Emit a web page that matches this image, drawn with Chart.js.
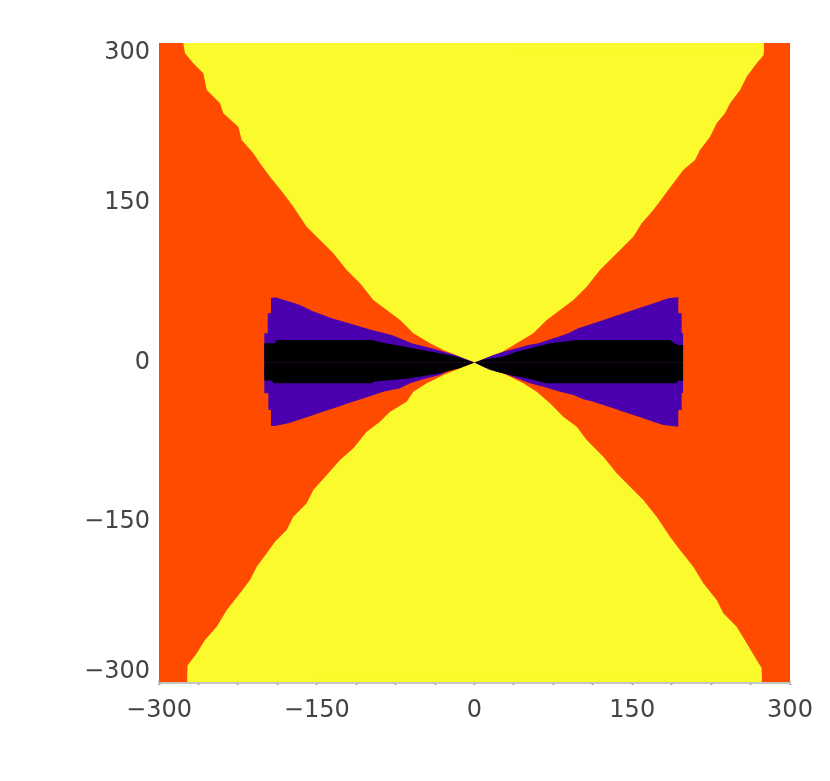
<!DOCTYPE html>
<html>
<head>
<meta charset="utf-8">
<script src="https://cdn.jsdelivr.net/npm/chart.js@4.4.1/dist/chart.umd.min.js"></script>
<style>
  html, body { margin: 0; padding: 0; background: #fff; }
  canvas { display: block; }
</style>
</head>
<body>
<canvas id="regionChart" width="830" height="781"></canvas>
<script>
/* ============================================================
   REGION BOUNDARIES  (data units)
   ============================================================ */
const axisMin = -300;
const axisMax = 300;
const labelTicks = [-300, -150, 0, 150, 300];

// full plot background
const orangeBox = [[-300, 300], [300, 300]];

// upper yellow cone: left edge top -> centre, then right edge centre -> top
const yellowTopLeft = [
    [-277, 300], [-275.3, 290.3], [-267.4, 281], [-257.9, 271.5], [-254.6, 255.9],
    [-242, 243.4], [-238.9, 234], [-224.6, 221.4], [-221.4, 208.9], [-210.3, 196.4],
    [-204, 187], [-194.5, 174.5], [-181.8, 158.9], [-172.3, 146.3], [-159.6, 127.5],
    [-146.9, 115], [-134.3, 102.5], [-121.5, 86.9], [-108.9, 74.4], [-96.2, 58.7],
    [-83.5, 49.3], [-70.8, 39.9], [-58.2, 27.4], [-42.3, 18], [-29.7, 11.7],
    [-13.8, 5.4], [0, 0]
];
const yellowTopRight = [
    [8.4, 2.3], [24.2, 8.6], [40.1, 18], [55.9, 27.4], [68.7, 39.9], [81.3, 49.3],
    [94, 58.7], [106.7, 71.2], [119.3, 86.9], [128.8, 96.2], [141.5, 108.7],
    [151, 118.1], [159, 130.7], [170, 143.2], [179.5, 155.7], [189, 168.3],
    [198.5, 180.8], [209.7, 190.1], [214.4, 199.5], [224, 212], [230.3, 224.6],
    [238.2, 234], [243, 243.4], [252.5, 255.9], [258.8, 268.4], [268.3, 280.9],
    [277.8, 291.8], [275, 300]
];

// lower yellow cone: left edge bottom -> centre, then right edge centre -> bottom
const yellowBottomLeft = [
    [-273, -300], [-277, -292], [-273.7, -285.6], [-264.1, -273], [-256.3, -260.6],
    [-245.1, -248.1], [-235.6, -232.4], [-223, -216.7], [-213.5, -204.2],
    [-207.1, -191.7], [-197.6, -179.2], [-189.7, -168.3], [-178.6, -157.3],
    [-172.3, -144.8], [-159.6, -132.2], [-153.3, -119.7], [-140.5, -105.6],
    [-127.9, -91.5], [-115.2, -80.6], [-102.5, -65], [-89.9, -55.6], [-80.3, -46.2],
    [-64.5, -36.8], [-58.2, -27.4], [-45.4, -19.5], [-29.7, -11.7], [-13.8, -5.4],
    [0, 0]
];
const yellowBottomRight = [
    [14.7, -5.4], [30.6, -11.7], [46.4, -19.5], [59.1, -27.4], [71.8, -38.3],
    [84.4, -50.9], [97.2, -60.3], [106.7, -72.8], [122.5, -88.5], [135.2, -104],
    [147.9, -116.6], [160.5, -129.1], [173.2, -144.8], [185.9, -163.6],
    [195.4, -176.1], [208, -191.7], [217.6, -207.3], [230.3, -223], [236.6, -235.5],
    [249.3, -248.1], [258.8, -263.7], [268.3, -279.3], [276.2, -291.8], [273, -300]
];

// purple bow tie
const purpleUpper = [
    [-200, 27.4], [-196.6, 27.4], [-196.6, 46.2], [-193.5, 46.2], [-193.5, 60.3],
    [-189.7, 61.2], [-175.4, 57.1], [-165.9, 54], [-154.8, 48.6], [-135.8, 41.5],
    [-116.8, 36.2], [-97.7, 30.5], [-78.7, 25.8], [-59.7, 18], [-40.7, 13.3],
    [-18.5, 7], [0, 0], [10, 3.9], [17.9, 7], [27.4, 10.1], [40.1, 13.3],
    [51.2, 16.4], [60.7, 18], [70.2, 21.1], [79.7, 24.2], [89.2, 27.4], [98.7, 32.1],
    [117.7, 38.3], [136.7, 44.6], [155.8, 50.9], [165.3, 54], [174.8, 57.1],
    [184.3, 60.3], [193.8, 61.2], [193.8, 46.2], [197, 46.2], [197, 27.4],
    [198.5, 27.4]
];
const purpleLower = [
    [-200, -28.9], [-196, -28.9], [-196, -44.6], [-193.5, -44.6], [-193.5, -59.6],
    [-189.7, -59.6], [-177, -57.1], [-167.5, -54], [-158, -50.9], [-148.5, -47.7],
    [-139, -44.6], [-129.5, -41.5], [-120, -38.3], [-110.5, -35.2], [-101, -32.1],
    [-86.7, -27.4], [-70.8, -24.2], [-61.3, -19.5], [-45.4, -14.8], [-32.8, -11.7],
    [-23.3, -7], [0, 0], [14.7, -7], [27.4, -10.1], [40.1, -14.8], [52.8, -19.5],
    [65.4, -22.7], [81.3, -27.4], [94, -30.5], [103.5, -34.6], [113, -36.8],
    [122.5, -39.9], [132, -43], [141.5, -46.2], [151, -49.3], [160.5, -52.4],
    [170, -55.6], [179.5, -58.7], [193.8, -60.3], [193.8, -44.6], [197, -44.6],
    [197, -28.6], [198.5, -28.6]
];

// black core
const blackUpper = [
    [-200, 18], [-190, 18], [-188, 21.1], [-98, 21.1], [-85, 18], [-66, 14.8],
    [-50, 11.7], [-33, 8.6], [-17, 5.4], [0, 0], [10, 3], [27.4, 5.4],
    [40.1, 10.1], [59.1, 14.8], [71.8, 18], [97.2, 21.1], [186, 21.1],
    [190, 18], [194, 16.4], [198.5, 16.4]
];
const blackLower = [
    [-200, -17], [-193, -17], [-191, -19.5], [-98, -19.5], [-96, -18],
    [-61, -14.8], [-33, -10.1], [-14, -5.4], [0, 0], [8.4, -3.9], [21.1, -8.6],
    [33.8, -11.7], [49.6, -14.8], [59.1, -17.1], [68.7, -19.5], [192, -19.5],
    [193, -17.1], [198.5, -17.1]
];

const COLORS = {
    orange: "#ff4b00",
    yellow: "#fafa2c",
    purple: "#4b00af",
    black: "#000000",
    label: "#444444"
};

const toPoints = arr => arr.map(([x, y]) => ({ x, y }));

function region(data, color, fill, order) {
    return {
        data: toPoints(data),
        showLine: true,
        borderWidth: 0,
        borderColor: "transparent",
        backgroundColor: color,
        pointRadius: 0,
        pointHoverRadius: 0,
        tension: 0,
        fill: fill,
        order: order
    };
}

function tickText(v) {
    if (!labelTicks.includes(v)) return "";
    return v < 0 ? "\u2212" + Math.abs(v) : String(v);
}

// end labels of the y axis sit inside the plot range, as in the original
function yTickText(v) {
    const t = tickText(v);
    if (v === axisMax) return ["", t];
    if (v === axisMin) return [t, ""];
    return t;
}

/* ============================================================
   DRAW
   ============================================================ */
new Chart(document.getElementById("regionChart"), {
    type: "scatter",
    data: {
        datasets: [
            region(blackUpper, COLORS.black, "origin", 1),
            region(blackLower, COLORS.black, "origin", 1),
            region(purpleUpper, COLORS.purple, "origin", 2),
            region(purpleLower, COLORS.purple, "origin", 2),
            region(yellowTopLeft.concat(yellowTopRight), COLORS.yellow, "end", 3),
            region(yellowBottomLeft.concat(yellowBottomRight), COLORS.yellow, "start", 3),
            region(orangeBox, COLORS.orange, "start", 4)
        ]
    },
    options: {
        responsive: false,
        animation: false,
        devicePixelRatio: 1,
        layout: { padding: { top: 43, right: 40, left: 0, bottom: 0 } },
        plugins: {
            legend: { display: false },
            tooltip: { enabled: false }
        },
        scales: {
            x: {
                type: "linear",
                min: axisMin,
                max: axisMax,
                afterFit: s => { s.height = 99; },
                border: { display: true, color: "#c4c4c4", width: 3 },
                grid: {
                    drawOnChartArea: false,
                    drawTicks: true,
                    tickLength: 3,
                    tickColor: "#9a9a9a",
                    tickWidth: 2
                },
                ticks: {
                    stepSize: 37.5,
                    autoSkip: false,
                    maxRotation: 0,
                    padding: 11,
                    color: COLORS.label,
                    font: { family: "DejaVu Sans", size: 24 },
                    callback: v => tickText(v)
                }
            },
            y: {
                type: "linear",
                min: axisMin,
                max: axisMax,
                afterFit: s => { s.width = 159; },
                border: { display: false },
                grid: { display: false, drawTicks: false },
                ticks: {
                    stepSize: 150,
                    padding: 9,
                    color: COLORS.label,
                    font: { family: "DejaVu Sans", size: 24, lineHeight: 0.85 },
                    callback: v => yTickText(v)
                }
            }
        }
    }
});
</script>
</body>
</html>
